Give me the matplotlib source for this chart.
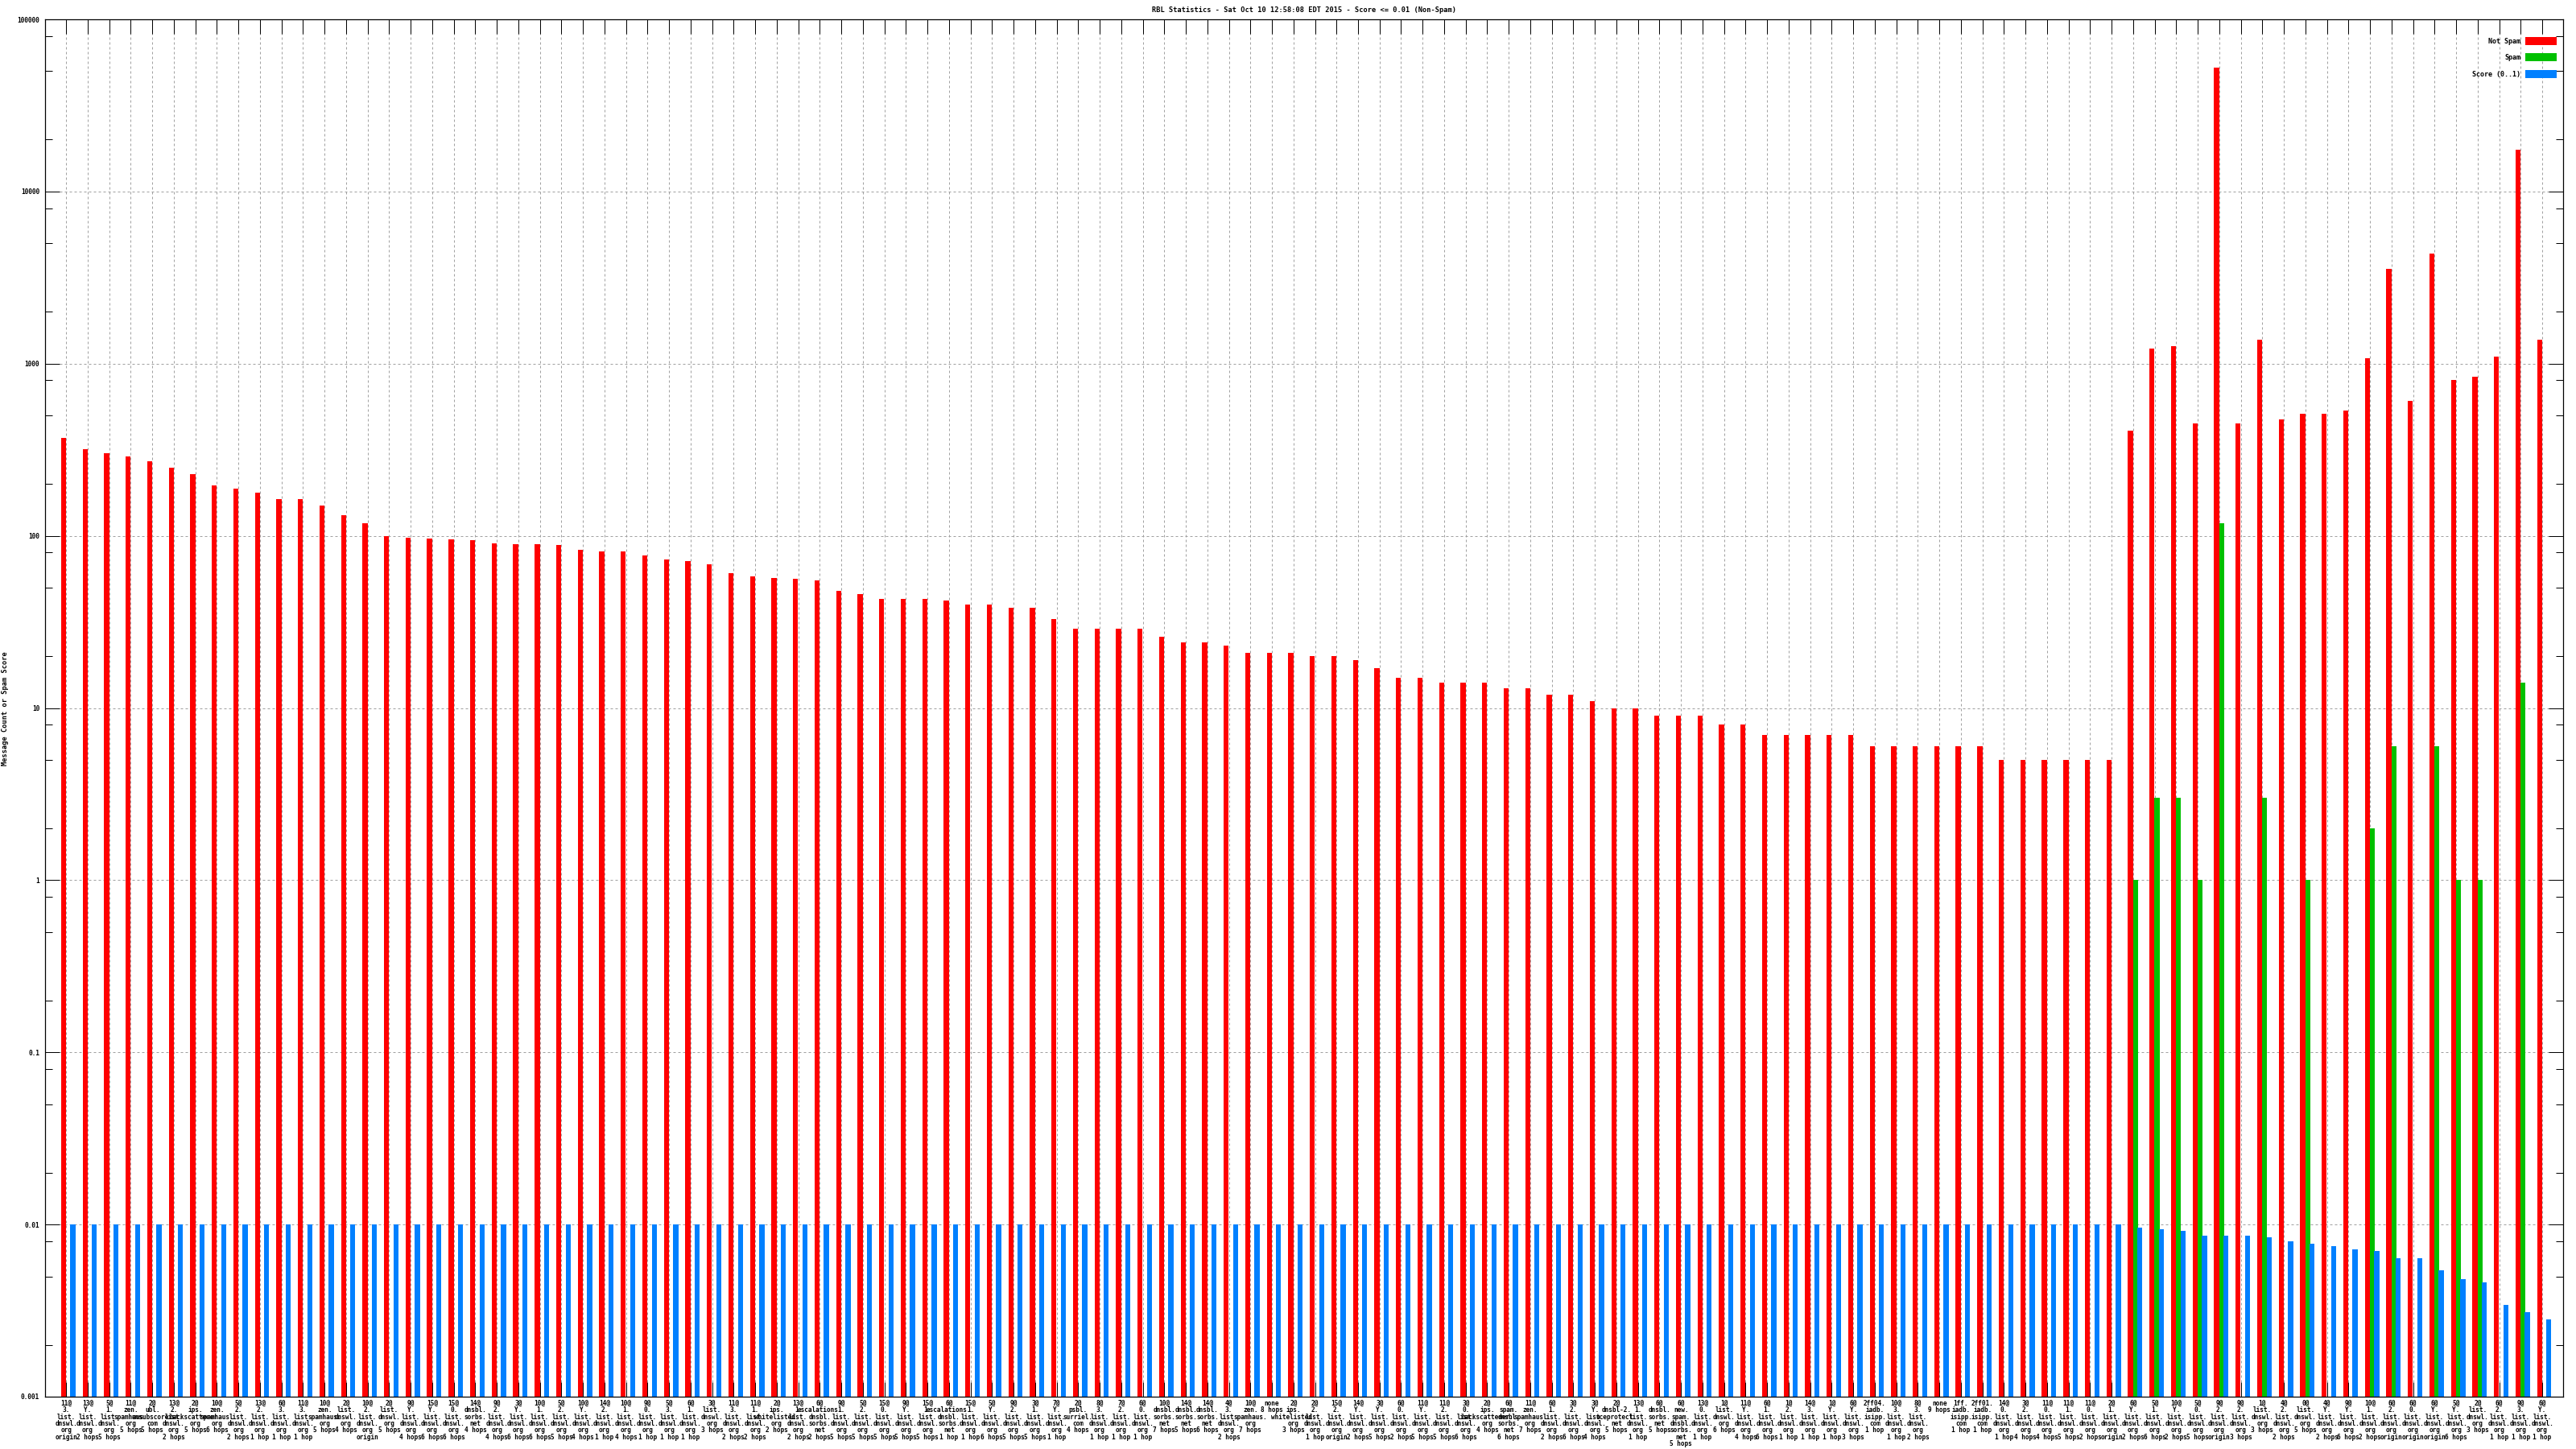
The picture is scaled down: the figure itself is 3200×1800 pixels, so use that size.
import numpy as np
import matplotlib
matplotlib.use("Agg")
import matplotlib.pyplot as plt
from matplotlib.ticker import FixedLocator, LogLocator, NullFormatter

TITLE = "RBL Statistics - Sat Oct 10 12:58:08 EDT 2015 - Score <= 0.01 (Non-Spam)"
YLABEL = "Message Count or Spam Score"
SERIES = ["Not Spam", "Spam", "Score (0..1)"]

labels = [
    "11@\n3.\nlist.\ndnswl.\norg\norigin", "13@\nY.\nlist.\ndnswl.\norg\n2 hops",
    "5@\n1.\nlist.\ndnswl.\norg\n5 hops", "11@\nzen.\nspamhaus.\norg\n5 hops",
    "2@\nubl.\nunsubscore.\ncom\n5 hops", "13@\n2.\nlist.\ndnswl.\norg\n2 hops",
    "2@\nips.\nbackscatterer.\norg\n5 hops", "10@\nzen.\nspamhaus.\norg\n6 hops",
    "5@\n2.\nlist.\ndnswl.\norg\n2 hops", "13@\n2.\nlist.\ndnswl.\norg\n1 hop",
    "6@\n3.\nlist.\ndnswl.\norg\n1 hop", "11@\n3.\nlist.\ndnswl.\norg\n1 hop",
    "10@\nzen.\nspamhaus.\norg\n5 hops", "2@\nlist.\ndnswl.\norg\n4 hops",
    "10@\n2.\nlist.\ndnswl.\norg\norigin", "2@\nlist.\ndnswl.\norg\n5 hops",
    "9@\nY.\nlist.\ndnswl.\norg\n4 hops", "15@\nY.\nlist.\ndnswl.\norg\n6 hops",
    "15@\n0.\nlist.\ndnswl.\norg\n6 hops", "14@\ndnsbl.\nsorbs.\nnet\n4 hops",
    "9@\n2.\nlist.\ndnswl.\norg\n4 hops", "3@\nY.\nlist.\ndnswl.\norg\n6 hops",
    "10@\n1.\nlist.\ndnswl.\norg\n6 hops", "5@\n2.\nlist.\ndnswl.\norg\n5 hops",
    "10@\nY.\nlist.\ndnswl.\norg\n4 hops", "14@\n2.\nlist.\ndnswl.\norg\n1 hop",
    "10@\n1.\nlist.\ndnswl.\norg\n4 hops", "9@\n0.\nlist.\ndnswl.\norg\n1 hop",
    "5@\n3.\nlist.\ndnswl.\norg\n1 hop", "6@\n1.\nlist.\ndnswl.\norg\n1 hop",
    "3@\nlist.\ndnswl.\norg\n3 hops", "11@\n3.\nlist.\ndnswl.\norg\n2 hops",
    "11@\n1.\nlist.\ndnswl.\norg\n2 hops", "2@\nips.\nwhitelisted.\norg\n2 hops",
    "13@\n1.\nlist.\ndnswl.\norg\n2 hops", "6@\nescalations.\ndnsbl.\nsorbs.\nnet\n2 hops",
    "9@\n1.\nlist.\ndnswl.\norg\n5 hops", "5@\n2.\nlist.\ndnswl.\norg\n5 hops",
    "15@\n0.\nlist.\ndnswl.\norg\n5 hops", "9@\nY.\nlist.\ndnswl.\norg\n5 hops",
    "15@\n1.\nlist.\ndnswl.\norg\n5 hops", "6@\nescalations.\ndnsbl.\nsorbs.\nnet\n1 hop",
    "15@\n1.\nlist.\ndnswl.\norg\n1 hop", "5@\nY.\nlist.\ndnswl.\norg\n6 hops",
    "9@\n2.\nlist.\ndnswl.\norg\n5 hops", "3@\n1.\nlist.\ndnswl.\norg\n5 hops",
    "7@\nY.\nlist.\ndnswl.\norg\n1 hop", "2@\npsbl.\nsurriel.\ncom\n4 hops",
    "8@\n3.\nlist.\ndnswl.\norg\n1 hop", "7@\n2.\nlist.\ndnswl.\norg\n1 hop",
    "6@\n0.\nlist.\ndnswl.\norg\n1 hop", "10@\ndnsbl.\nsorbs.\nnet\n7 hops",
    "14@\ndnsbl.\nsorbs.\nnet\n5 hops", "14@\ndnsbl.\nsorbs.\nnet\n6 hops",
    "4@\n3.\nlist.\ndnswl.\norg\n2 hops", "10@\nzen.\nspamhaus.\norg\n7 hops",
    "none\n8 hops", "2@\nips.\nwhitelisted.\norg\n3 hops",
    "2@\n2.\nlist.\ndnswl.\norg\n1 hop", "15@\n2.\nlist.\ndnswl.\norg\norigin",
    "14@\nY.\nlist.\ndnswl.\norg\n2 hops", "3@\nY.\nlist.\ndnswl.\norg\n5 hops",
    "6@\n0.\nlist.\ndnswl.\norg\n2 hops", "11@\nY.\nlist.\ndnswl.\norg\n5 hops",
    "11@\n2.\nlist.\ndnswl.\norg\n5 hops", "3@\n0.\nlist.\ndnswl.\norg\n6 hops",
    "2@\nips.\nbackscatterer.\norg\n4 hops", "6@\nspam.\ndnsbl.\nsorbs.\nnet\n6 hops",
    "11@\nzen.\nspamhaus.\norg\n7 hops", "6@\n1.\nlist.\ndnswl.\norg\n2 hops",
    "3@\n2.\nlist.\ndnswl.\norg\n6 hops", "3@\nY.\nlist.\ndnswl.\norg\n4 hops",
    "2@\ndnsbl-2.\nuceprotect.\nnet\n5 hops", "13@\n1.\nlist.\ndnswl.\norg\n1 hop",
    "6@\ndnsbl.\nsorbs.\nnet\n5 hops", "6@\nnew.\nspam.\ndnsbl.\nsorbs.\nnet\n5 hops",
    "13@\n0.\nlist.\ndnswl.\norg\n1 hop", "1@\nlist.\ndnswl.\norg\n6 hops",
    "11@\nY.\nlist.\ndnswl.\norg\n4 hops", "6@\n1.\nlist.\ndnswl.\norg\n6 hops",
    "1@\n2.\nlist.\ndnswl.\norg\n1 hop", "14@\n3.\nlist.\ndnswl.\norg\n1 hop",
    "1@\nY.\nlist.\ndnswl.\norg\n1 hop", "6@\nY.\nlist.\ndnswl.\norg\n3 hops",
    "2ff04.\niadb.\nisipp.\ncom\n1 hop", "10@\n3.\nlist.\ndnswl.\norg\n1 hop",
    "8@\n3.\nlist.\ndnswl.\norg\n2 hops", "none\n9 hops",
    "1ff.\niadb.\nisipp.\ncom\n1 hop", "2ff01.\niadb.\nisipp.\ncom\n1 hop",
    "14@\n0.\nlist.\ndnswl.\norg\n1 hop", "3@\n2.\nlist.\ndnswl.\norg\n4 hops",
    "11@\n0.\nlist.\ndnswl.\norg\n4 hops", "11@\n1.\nlist.\ndnswl.\norg\n5 hops",
    "11@\n0.\nlist.\ndnswl.\norg\n2 hops", "2@\n1.\nlist.\ndnswl.\norg\norigin",
    "6@\nY.\nlist.\ndnswl.\norg\n2 hops", "5@\n1.\nlist.\ndnswl.\norg\n6 hops",
    "10@\nY.\nlist.\ndnswl.\norg\n2 hops", "5@\n0.\nlist.\ndnswl.\norg\n5 hops",
    "9@\n2.\nlist.\ndnswl.\norg\norigin", "9@\n2.\nlist.\ndnswl.\norg\n3 hops",
    "1@\nlist.\ndnswl.\norg\n3 hops", "4@\n2.\nlist.\ndnswl.\norg\n2 hops",
    "0@\nlist.\ndnswl.\norg\n5 hops", "4@\nY.\nlist.\ndnswl.\norg\n2 hops",
    "9@\nY.\nlist.\ndnswl.\norg\n6 hops", "10@\n1.\nlist.\ndnswl.\norg\n2 hops",
    "6@\n2.\nlist.\ndnswl.\norg\norigin", "6@\n0.\nlist.\ndnswl.\norg\norigin",
    "6@\nY.\nlist.\ndnswl.\norg\norigin", "5@\nY.\nlist.\ndnswl.\norg\n6 hops",
    "2@\nlist.\ndnswl.\norg\n3 hops", "6@\n2.\nlist.\ndnswl.\norg\n1 hop",
    "9@\n3.\nlist.\ndnswl.\norg\n1 hop", "6@\nY.\nlist.\ndnswl.\norg\n1 hop",
]

not_spam = [
    370, 317, 303, 290, 272, 249, 228, 196, 187, 179,
    164, 164, 150, 132, 118, 100, 98, 96, 95, 94,
    90, 89, 89, 88, 83, 81, 81, 77, 73, 71,
    68, 61, 58, 57, 56, 55, 48, 46, 43, 43,
    43, 42, 40, 40, 38, 38, 33, 29, 29, 29,
    29, 26, 24, 24, 23, 21, 21, 21, 20, 20,
    19, 17, 15, 15, 14, 14, 14, 13, 13, 12,
    12, 11, 10, 10, 9, 9, 9, 8, 8, 7,
    7, 7, 7, 7, 6, 6, 6, 6, 6, 6,
    5, 5, 5, 5, 5, 5, 406, 1227, 1268, 448,
    52400, 452, 1384, 472, 509, 514, 532, 1081, 3565, 605,
    4337, 800, 844, 1103, 17540, 1384,
]

spam = [
    0, 0, 0, 0, 0, 0, 0, 0, 0, 0,
    0, 0, 0, 0, 0, 0, 0, 0, 0, 0,
    0, 0, 0, 0, 0, 0, 0, 0, 0, 0,
    0, 0, 0, 0, 0, 0, 0, 0, 0, 0,
    0, 0, 0, 0, 0, 0, 0, 0, 0, 0,
    0, 0, 0, 0, 0, 0, 0, 0, 0, 0,
    0, 0, 0, 0, 0, 0, 0, 0, 0, 0,
    0, 0, 0, 0, 0, 0, 0, 0, 0, 0,
    0, 0, 0, 0, 0, 0, 0, 0, 0, 0,
    0, 0, 0, 0, 0, 0, 1, 3, 3, 1,
    118, 0, 3, 0, 1, 0, 0, 2, 6, 0,
    6, 1, 1, 0, 14, 0,
]

score = [
    0.01, 0.01, 0.01, 0.01, 0.01, 0.01, 0.01, 0.01, 0.01, 0.01,
    0.01, 0.01, 0.01, 0.01, 0.01, 0.01, 0.01, 0.01, 0.01, 0.01,
    0.01, 0.01, 0.01, 0.01, 0.01, 0.01, 0.01, 0.01, 0.01, 0.01,
    0.01, 0.01, 0.01, 0.01, 0.01, 0.01, 0.01, 0.01, 0.01, 0.01,
    0.01, 0.01, 0.01, 0.01, 0.01, 0.01, 0.01, 0.01, 0.01, 0.01,
    0.01, 0.01, 0.01, 0.01, 0.01, 0.01, 0.01, 0.01, 0.01, 0.01,
    0.01, 0.01, 0.01, 0.01, 0.01, 0.01, 0.01, 0.01, 0.01, 0.01,
    0.01, 0.01, 0.01, 0.01, 0.01, 0.01, 0.01, 0.01, 0.01, 0.01,
    0.01, 0.01, 0.01, 0.01, 0.01, 0.01, 0.01, 0.01, 0.01, 0.01,
    0.01, 0.01, 0.01, 0.01, 0.01, 0.01, 0.0096, 0.0094, 0.0092, 0.0086,
    0.0086, 0.0086, 0.0084, 0.0080, 0.0077, 0.0075, 0.0072, 0.0070, 0.0064, 0.0064,
    0.0054, 0.0048, 0.0046, 0.0034, 0.0031, 0.0028,
]

y_ticks = [0.001, 0.01, 0.1, 1, 10, 100, 1000, 10000, 100000]
y_tick_labels = ["0.001", "0.01", "0.1", "1", "10", "100", "1000", "10000", "100000"]

COLORS = ["#ff0000", "#00c000", "#0080ff"]
MONO = "DejaVu Sans Mono"
plt.rcParams["font.family"] = [MONO, "DejaVu Sans"]
plt.rcParams["font.weight"] = "bold"
FS = 5.6

W, H, DPI = 3200, 1800, 100
fig = plt.figure(figsize=(W / DPI, H / DPI), dpi=DPI)
L, R, T, B = 56, 3184, 24, 1735
ax = fig.add_axes([L / W, 1 - B / H, (R - L) / W, (B - T) / H])

n = len(labels)
x = np.arange(1, n + 1)
base = 0.001
bw = 0.235
offs = [-0.122, 0.108, 0.31]
for vals, off, col, name in zip([not_spam, spam, score], offs, COLORS, SERIES):
    v = np.asarray(vals, dtype=float)
    h = np.where(v > base, v - base, 0.0)
    ax.bar(x + off, h, bottom=base, width=bw, color=col, linewidth=0,
           label=name, zorder=3)

ax.set_yscale("log")
ax.set_ylim(0.001, 100000)
ax.set_xlim(0.02, n + 0.97)

ax.yaxis.set_major_locator(FixedLocator(y_ticks))
ax.set_yticklabels(y_tick_labels)
ax.yaxis.set_minor_locator(LogLocator(base=10, subs=(2.0, 5.0, 8.0), numticks=50))
ax.yaxis.set_minor_formatter(NullFormatter())

ax.set_xticks(x)
ax.set_xticklabels(labels, fontsize=FS, linespacing=0.9, ha="center", va="top")
ax.tick_params(axis="x", which="both", direction="in", length=13, width=0.72,
               top=True, bottom=True, pad=3, labelsize=FS)
ax.tick_params(axis="x", which="minor", length=0)
ax.tick_params(axis="y", which="major", direction="in", length=13, width=0.72,
               left=True, right=True, pad=5, labelsize=FS)
ax.tick_params(axis="y", which="minor", direction="in", length=6.5, width=0.72,
               left=True, right=True)

ax.set_axisbelow(True)
ax.grid(True, which="major", axis="both", color="#a0a0a0",
        linestyle=(0, (3, 3)), linewidth=0.72, zorder=0)
for s in ax.spines.values():
    s.set_linewidth(0.9)
    s.set_zorder(5)

fig.text(1620 / W, 1 - 12.5 / H, TITLE, ha="center", va="center", fontsize=6.2)
fig.text(6.5 / W, 1 - 880 / H, YLABEL, ha="center", va="center",
         rotation=90, fontsize=6.2)

leg = ax.legend(loc="upper right", bbox_to_anchor=(3176 / W, 1 - 46 / H),
                bbox_transform=fig.transFigure, frameon=False, markerfirst=False,
                fontsize=6.0, handlelength=4.7, handleheight=1.4,
                labelspacing=1.3, handletextpad=0.65, borderpad=0, borderaxespad=0)

fig.savefig("out.png", dpi=DPI)
